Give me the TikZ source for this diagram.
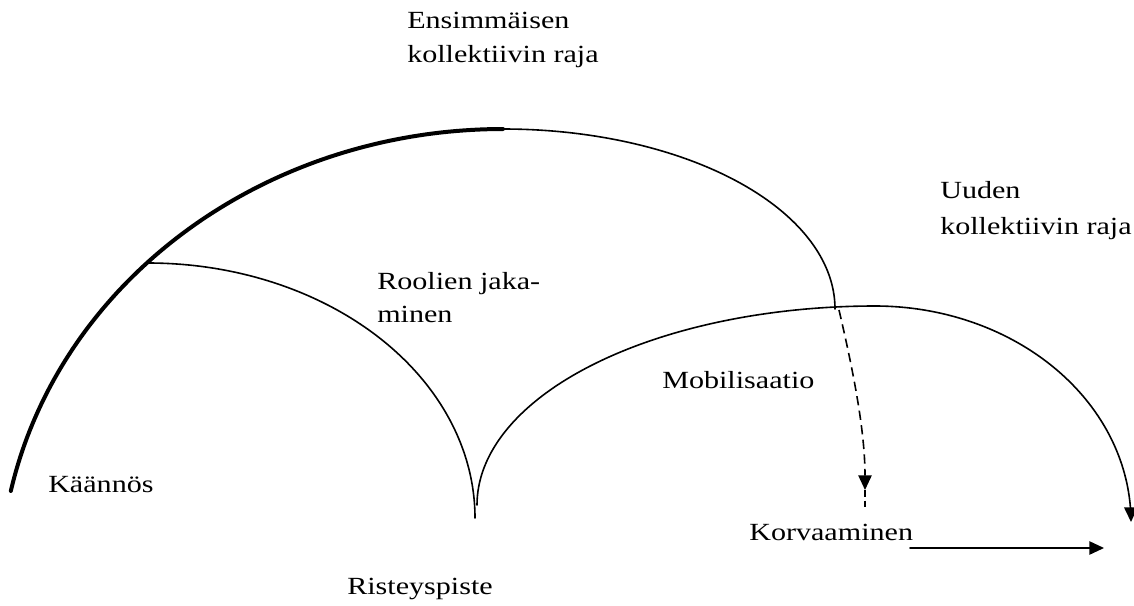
\documentclass[tikz,border=0pt]{standalone}
\usepackage{fontspec}
\setmainfont{Liberation Serif}
\usepackage{graphicx}
\usetikzlibrary{arrows.meta}
\tikzset{
  lbl/.style={anchor=base west, inner sep=0pt, font=\fontsize{18.5}{22}\selectfont},
  thinline/.style={line width=1.2pt, line cap=round, line join=round},
  thickline/.style={line width=3pt, line cap=round, line join=round},
  dashline/.style={line width=1.2pt, dash pattern=on 7pt off 4pt},
  tip/.style={-{Triangle[length=11pt,width=10pt]}}
}
\newcommand{\wide}[1]{\scalebox{1.22}[1]{#1}}
\begin{document}
\begin{tikzpicture}[x=0.75pt,y=-0.75pt]
\useasboundingbox (0,0) rectangle (1134,606);
% big arc (first collective)
\draw[thickline] plot[domain=191.9:270,samples=90] ({503+503*cos(\x)},{585+456*sin(\x)});
\draw[thinline] plot[domain=270:360,samples=90] ({503+332*cos(\x)},{309+180*sin(\x)});
% Roolien arc
\draw[thinline] plot[domain=270:360,samples=90] ({148+327*cos(\x)},{518+255*sin(\x)});
% Mobilisaatio arc (new collective)
\draw[thinline] plot[domain=180:270,samples=90] ({875+398*cos(\x)},{505+199*sin(\x)});
\draw[thinline,tip] plot[domain=270:360,samples=90] ({875+256*cos(\x)},{522+216*sin(\x)});
% dashed arrow
\coordinate (d0) at (839,310);
\coordinate (d1) at (865,490);
\coordinate (d2) at (865,508);
\draw[dashline,tip] (d0) .. controls (853,370) and (865,430) .. (d1);
\draw[dashline,dash pattern=on 5pt off 3pt] (d1) -- (d2);
% horizontal arrow
\coordinate (h0) at (910,548);
\coordinate (h1) at (1104,548);
\draw[thinline,tip] (h0) -- (h1);
% labels
\node[lbl] (ens1) at (407,29) {\wide{Ensimmäisen}};
\node[lbl] (ens2) at (407,63) {\wide{kollektiivin raja}};
\node[lbl] (uud1) at (940,198) {\wide{Uuden}};
\node[lbl] (uud2) at (940,234) {\wide{kollektiivin raja}};
\node[lbl] (rool1) at (377,289) {\wide{Roolien jaka-}};
\node[lbl] (rool2) at (377,322) {\wide{minen}};
\node[lbl] (mob) at (662,388) {\wide{Mobilisaatio}};
\node[lbl] (kaan) at (48,492) {\wide{Käännös}};
\node[lbl] (korv) at (749,540) {\wide{Korvaaminen}};
\node[lbl] (rist) at (347,594) {\wide{Risteyspiste}};
\end{tikzpicture}
\end{document}
